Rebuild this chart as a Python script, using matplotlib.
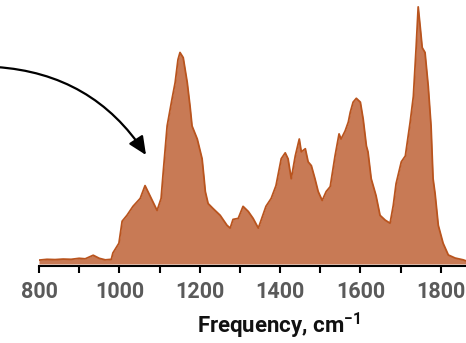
import matplotlib
matplotlib.use("Agg")
import matplotlib.pyplot as plt
from matplotlib.ticker import MultipleLocator

# spectrum (frequency in cm-1, normalised intensity)
freq = [800, 820, 840, 860, 880, 900, 915, 935, 950, 965, 980, 984, 999,
        1007, 1019, 1034, 1052, 1064, 1077, 1094, 1104, 1109, 1119, 1131,
        1139, 1146, 1151, 1159, 1169, 1176, 1181, 1194, 1206, 1211, 1214,
        1221, 1233, 1251, 1268, 1276, 1283, 1296, 1308, 1321, 1333, 1346,
        1353, 1365, 1378, 1390, 1403, 1413, 1420, 1428, 1438, 1448, 1453,
        1463, 1470, 1478, 1487, 1495, 1505, 1515, 1525, 1537, 1547, 1552,
        1562, 1570, 1575, 1582, 1590, 1600, 1607, 1615, 1619, 1627, 1639,
        1649, 1662, 1674, 1682, 1689, 1702, 1712, 1724, 1732, 1739, 1744,
        1749, 1754, 1761, 1769, 1776, 1781, 1786, 1794, 1806, 1819, 1836,
        1856, 1863]
intensity = [0.015, 0.018, 0.017, 0.019, 0.018, 0.022, 0.020, 0.034, 0.022,
             0.016, 0.018, 0.043, 0.081, 0.167, 0.190, 0.225, 0.256, 0.306,
             0.264, 0.209, 0.256, 0.353, 0.539, 0.643, 0.709, 0.798, 0.826,
             0.806, 0.709, 0.616, 0.539, 0.488, 0.411, 0.333, 0.283, 0.236,
             0.217, 0.190, 0.151, 0.140, 0.174, 0.178, 0.225, 0.205, 0.178,
             0.140, 0.171, 0.225, 0.256, 0.306, 0.411, 0.434, 0.411, 0.333,
             0.422, 0.488, 0.438, 0.450, 0.399, 0.384, 0.333, 0.283, 0.248,
             0.283, 0.302, 0.422, 0.508, 0.488, 0.519, 0.554, 0.593, 0.632,
             0.647, 0.632, 0.566, 0.461, 0.438, 0.333, 0.267, 0.190, 0.171,
             0.159, 0.229, 0.314, 0.399, 0.422, 0.554, 0.655, 0.849, 1.004,
             0.926, 0.845, 0.826, 0.694, 0.539, 0.333, 0.275, 0.151, 0.081,
             0.035, 0.023, 0.016, 0.012]
xticks = [800, 1000, 1200, 1400, 1600, 1800]

plt.rcParams["mathtext.fontset"] = "custom"
plt.rcParams["mathtext.rm"] = "Roboto"
plt.rcParams["mathtext.bf"] = "Roboto:bold"
font = ["Roboto", "DejaVu Sans"]

fig = plt.figure(figsize=(4.66, 3.43), dpi=100)
ax = fig.add_axes([39 / 466, 77 / 343, 427 / 466, 266 / 343])

ax.fill_between(freq, intensity, 0, color="#C87A55", linewidth=0)
ax.plot(freq, intensity, color="#B9541E", linewidth=1.3)

ax.set_xlim(800, 1863)
ax.set_ylim(-0.008, 1.031)
for s in ["top", "left", "right"]:
    ax.spines[s].set_visible(False)
ax.spines["bottom"].set_linewidth(1.5)
ax.set_yticks([])
ax.set_xticks(xticks)
ax.xaxis.set_minor_locator(MultipleLocator(100))
ax.tick_params(axis="x", which="both", direction="out", length=5, width=1.5,
               pad=6)
ax.set_xticklabels([str(t) for t in xticks], family=font, fontweight="bold",
                   fontsize=15.5, color="#5a5a5a")

fig.text(279 / 466, 17 / 343, "Frequency, cm$^{\\mathbf{-1}}$", family=font,
         fontweight="bold", fontsize=16, ha="center", va="center",
         color="#111111")

ax.annotate("", xy=(146, 188), xycoords="figure pixels",
            xytext=(-4, 276), textcoords="figure pixels",
            arrowprops=dict(arrowstyle="-|>,head_length=0.55,head_width=0.25",
                            connectionstyle="arc3,rad=-0.25", color="black",
                            lw=1.6, mutation_scale=20, shrinkA=0, shrinkB=0),
            annotation_clip=False)

fig.savefig("out.png", dpi=100)
